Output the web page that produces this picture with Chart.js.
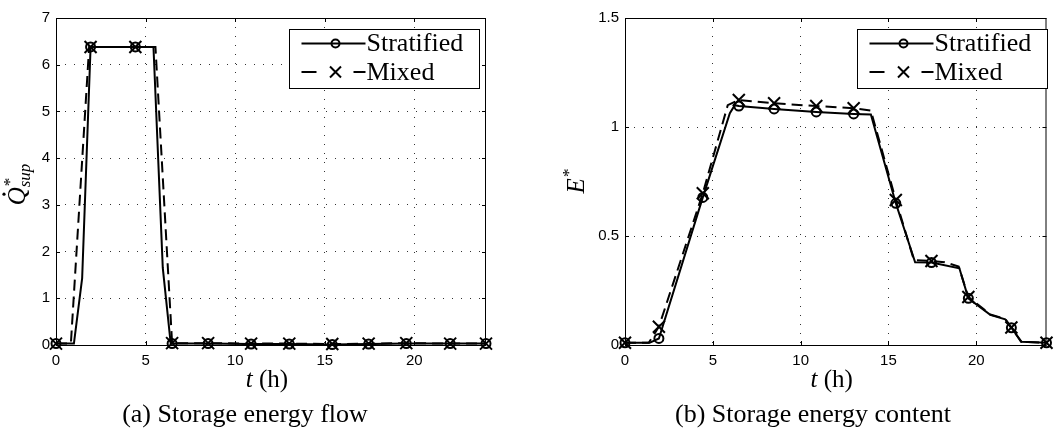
<!DOCTYPE html>
<html>
<head>
<meta charset="utf-8">
<script src="https://cdn.jsdelivr.net/npm/chart.js@4"></script>
<style>
  html, body { margin: 0; padding: 0; background: #fff; }
  #wrap { position: relative; width: 1057px; height: 428px; }
  .pane { position: absolute; top: 0; height: 428px; }
</style>
</head>
<body>
<div id="wrap">
  <div class="pane" style="left:0;width:528px"><canvas id="flowChart"></canvas></div>
  <div class="pane" style="left:528px;width:529px"><canvas id="contentChart"></canvas></div>
</div>
<script>
// Storage tank: stratified vs mixed model, 24 h run

const seriesNames = ['Stratified', 'Mixed'];
const xTicks = [0, 5, 10, 15, 20];
const flowTicks = [0, 1, 2, 3, 4, 5, 6, 7];
const contentTicks = [0, 0.5, 1, 1.5];

// times (h) where a marker is drawn
const tMark = [0, 1.93, 4.43, 6.48, 8.49, 10.89, 13.02, 15.42, 17.45, 19.55, 22.0, 24];

// (a) storage energy flow Q*sup
const tFlowStrat = [0, 1.0, 1.46, 1.93, 4.43, 5.44, 5.96, 6.4, 6.48, 8.49, 10.89, 13.02, 15.42, 17.45, 19.55, 22.0, 24];
const qStrat     = [0.03, 0.03, 1.43, 6.38, 6.38, 6.38, 1.65, 0.04, 0.03, 0.03, 0.02, 0.02, 0.01, 0.02, 0.03, 0.03, 0.03];
const tFlowMixed = [0, 0.83, 1.85, 1.93, 4.43, 5.55, 6.48, 8.49, 10.89, 13.02, 15.42, 17.45, 19.55, 22.0, 24];
const qMixed     = [0.03, 0.03, 6.38, 6.38, 6.38, 6.38, 0.04, 0.04, 0.03, 0.03, 0.02, 0.03, 0.04, 0.03, 0.03];

// (b) storage energy content E*
const tEStrat = [0, 1.4, 1.93, 4.43, 5.97, 6.25, 6.48, 8.49, 10.89, 13.02, 14.0, 15.42, 16.52, 17.45, 19.04, 19.55, 20.8, 21.65, 22.0, 22.58, 24];
const eStrat  = [0.01, 0.01, 0.03, 0.677, 1.063, 1.10, 1.096, 1.083, 1.069, 1.06, 1.057, 0.65, 0.379, 0.378, 0.352, 0.214, 0.138, 0.118, 0.079, 0.015, 0.01];
const tEMixed = [0, 1.35, 1.93, 4.43, 5.85, 6.48, 8.49, 10.89, 13.02, 14.0, 15.42, 16.45, 17.45, 18.2, 19.0, 19.55, 20.8, 21.65, 22.0, 22.55, 24];
const eMixed  = [0.01, 0.01, 0.084, 0.696, 1.10, 1.124, 1.109, 1.096, 1.086, 1.075, 0.665, 0.39, 0.385, 0.38, 0.36, 0.22, 0.14, 0.12, 0.08, 0.015, 0.01];

const serif = '"Liberation Serif", "DejaVu Serif", serif';
Chart.defaults.font.family = '"Liberation Sans", Arial, sans-serif';
Chart.defaults.font.size = 14;
Chart.defaults.color = '#000';

const toPts = (ts, vs) => ts.map((t, i) => ({ x: t, y: vs[i] }));
const markPts = (ts, vs) => toPts(ts, vs).filter(p => tMark.includes(p.x));

// MATLAB-ish frame: box, inward ticks, legend, axis titles, caption
const matlabFrame = {
  id: 'matlabFrame',
  afterDraw(chart, args, o) {
    const ctx = chart.ctx;
    const a = chart.chartArea;
    const xs = chart.scales.x, ys = chart.scales.y;
    ctx.save();
    ctx.strokeStyle = '#000';
    ctx.lineWidth = 1;
    ctx.strokeRect(a.left + 0.5, a.top + 0.5, a.right - a.left - 1, a.bottom - a.top);
    ctx.beginPath();
    xs.ticks.forEach(t => {
      const px = Math.round(xs.getPixelForValue(t.value)) + 0.5;
      ctx.moveTo(px, a.bottom); ctx.lineTo(px, a.bottom - 4);
      ctx.moveTo(px, a.top); ctx.lineTo(px, a.top + 4);
    });
    ys.ticks.forEach(t => {
      const py = Math.round(ys.getPixelForValue(t.value)) + 0.5;
      ctx.moveTo(a.left, py); ctx.lineTo(a.left + 4, py);
      ctx.moveTo(a.right, py); ctx.lineTo(a.right - 4, py);
    });
    ctx.stroke();

    // legend
    const L = o.legendX, T = 29.5, W = 190, H = 59;
    ctx.fillStyle = '#fff';
    ctx.fillRect(L, T, W, H);
    ctx.strokeRect(L, T, W, H);
    const y1 = T + 14, y2 = T + 42.5;
    ctx.lineWidth = 2;
    ctx.beginPath();
    ctx.moveTo(L + 12, y1); ctx.lineTo(L + 76, y1);
    ctx.moveTo(L + 12, y2); ctx.lineTo(L + 27, y2);
    ctx.moveTo(L + 64, y2); ctx.lineTo(L + 76, y2);
    ctx.stroke();
    ctx.beginPath();
    ctx.arc(L + 46, y1, 4, 0, Math.PI * 2);
    ctx.stroke();
    ctx.beginPath();
    ctx.moveTo(L + 40.5, y2 - 5.5); ctx.lineTo(L + 51.5, y2 + 5.5);
    ctx.moveTo(L + 40.5, y2 + 5.5); ctx.lineTo(L + 51.5, y2 - 5.5);
    ctx.stroke();
    ctx.fillStyle = '#000';
    ctx.font = '26px ' + serif;
    ctx.textBaseline = 'middle';
    ctx.textAlign = 'left';
    ctx.fillText(seriesNames[0], L + 77, y1 + 1);
    ctx.fillText(seriesNames[1], L + 77, y2 + 1);

    // x title: t (h)
    ctx.textBaseline = 'alphabetic';
    ctx.font = 'italic 25px ' + serif;
    const w1 = ctx.measureText('t').width;
    ctx.font = '25px ' + serif;
    const w2 = ctx.measureText(' (h)').width;
    const cx = (a.left + a.right) / 2 - 4;
    ctx.font = 'italic 25px ' + serif;
    ctx.fillText('t', cx - (w1 + w2) / 2, 387);
    ctx.font = '25px ' + serif;
    ctx.fillText(' (h)', cx - (w1 + w2) / 2 + w1, 387);

    // caption
    ctx.textAlign = 'center';
    ctx.font = '26px ' + serif;
    ctx.fillText(o.caption, o.captionX, 422);

    // y title (rotated)
    ctx.translate(o.yTitleX, o.yTitleY);
    ctx.rotate(-Math.PI / 2);
    ctx.textAlign = 'left';
    ctx.font = 'italic 25px ' + serif;
    const wm = ctx.measureText(o.yMain).width;
    ctx.font = 'italic 17px ' + serif;
    const wsub = o.ySub ? ctx.measureText(o.ySub).width : 0;
    const wstar = ctx.measureText('*').width;
    const total = wm + Math.max(wsub, wstar) + 1;
    let x0 = -total / 2;
    ctx.font = 'italic 25px ' + serif;
    ctx.fillText(o.yMain, x0, 7);
    if (o.yDot) {
      ctx.beginPath();
      ctx.arc(x0 + wm * 0.62, -14, 1.6, 0, Math.PI * 2);
      ctx.fill();
    }
    ctx.font = '17px ' + serif;
    ctx.fillText('*', x0 + wm + 1, -3);
    if (o.ySub) {
      ctx.font = 'italic 17px ' + serif;
      ctx.fillText(o.ySub, x0 + wm, 12);
    }
    ctx.restore();
  }
};

function makeChart(id, s1, s2, yMax, yTickVals, frame, yWidth, padRight) {
  return new Chart(document.getElementById(id), {
    type: 'line',
    data: {
      datasets: [
        { label: seriesNames[0], data: s1, borderColor: '#000', borderWidth: 2, pointRadius: 0, fill: false, tension: 0 },
        { label: seriesNames[1], data: s2, borderColor: '#000', borderWidth: 2, borderDash: [11, 6], pointRadius: 0, fill: false, tension: 0 },
        { data: markPts(s1.map(p => p.x), s1.map(p => p.y)), showLine: false, pointStyle: 'circle', pointRadius: 4.5,
          pointBorderWidth: 2, pointBorderColor: '#000', pointBackgroundColor: 'rgba(0,0,0,0)', clip: false },
        { data: markPts(s2.map(p => p.x), s2.map(p => p.y)), showLine: false, pointStyle: 'crossRot', pointRadius: 8.5,
          pointBorderWidth: 2, pointBorderColor: '#000', clip: false }
      ]
    },
    options: {
      responsive: true,
      maintainAspectRatio: false,
      animation: false,
      layout: { padding: { left: 0, right: padRight, top: 18, bottom: 0 } },
      plugins: { legend: { display: false }, tooltip: { enabled: false }, matlabFrame: frame },
      scales: {
        x: {
          type: 'linear', min: 0, max: 24,
          afterFit: s => { s.height = 83; },
          afterBuildTicks: s => { s.ticks = xTicks.map(v => ({ value: v })); },
          ticks: { padding: 7, maxRotation: 0, font: { size: 15 }, callback: v => String(v) },
          grid: { color: 'rgba(0,0,0,0.8)', lineWidth: 1, drawTicks: false },
          border: { display: false, dash: [1, 8] }
        },
        y: {
          type: 'linear', min: 0, max: yMax,
          afterFit: s => { s.width = yWidth; },
          afterBuildTicks: s => { s.ticks = yTickVals.map(v => ({ value: v })); },
          ticks: { padding: 6, font: { size: 15 }, callback: v => String(v) },
          grid: { color: 'rgba(0,0,0,0.8)', lineWidth: 1, drawTicks: false },
          border: { display: false, dash: [1, 8] }
        }
      }
    },
    plugins: [matlabFrame]
  });
}

makeChart('flowChart', toPts(tFlowStrat, qStrat), toPts(tFlowMixed, qMixed), 7, flowTicks,
  { legendX: 289.5, caption: '(a) Storage energy flow', captionX: 245, yTitleX: 18, yTitleY: 184, yMain: 'Q', ySub: 'sup', yDot: true },
  56, 42);

makeChart('contentChart', toPts(tEStrat, eStrat), toPts(tEMixed, eMixed), 1.5, contentTicks,
  { legendX: 329.5, caption: '(b) Storage energy content', captionX: 285, yTitleX: 49, yTitleY: 181, yMain: 'E', ySub: '', yDot: false },
  97, 3);
</script>
</body>
</html>
